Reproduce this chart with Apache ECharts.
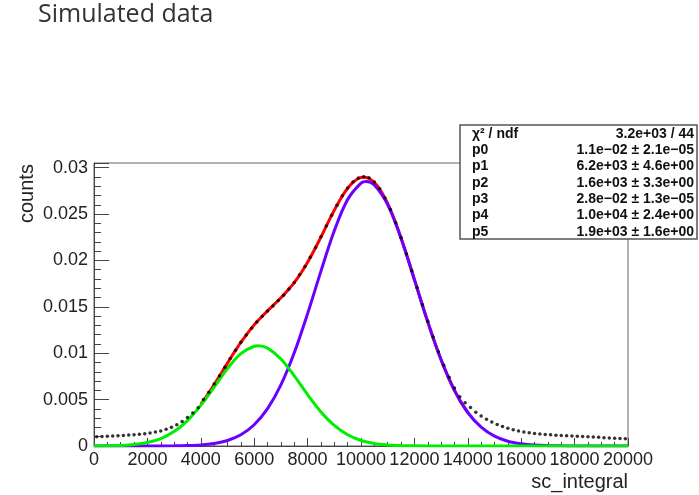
<!DOCTYPE html>
<html>
<head>
<meta charset="utf-8">
<script src="https://cdn.jsdelivr.net/npm/echarts@6/dist/echarts.min.js"></script>
<style>
html,body{margin:0;padding:0;background:#fff;}
#chart{width:699px;height:495px;}
</style>
</head>
<body>
<div id="chart"></div>
<script>
// ---- data ----
const binFirstCenter = 100, binWidth = 200;
const dataCounts = [
  0.00100,0.00103,0.00106,0.00109,0.00111,0.00114,0.00118,0.00122,0.00127,0.00133,
  0.00140,0.00150,0.00163,0.00180,0.00202,0.00230,0.00265,0.00307,0.00355,0.00412,
  0.00500,0.00580,0.00668,0.00757,0.00850,0.00942,0.01033,0.01117,0.01197,0.01268,
  0.01336,0.01398,0.01455,0.01510,0.01567,0.01626,0.01692,0.01763,0.01845,0.01935,
  0.02034,0.02140,0.02254,0.02372,0.02487,0.02596,0.02697,0.02781,0.02846,0.02888,
  0.02903,0.02890,0.02846,0.02773,0.02673,0.02550,0.02405,0.02245,0.02070,0.01890,
  0.01706,0.01523,0.01345,0.01175,0.01016,0.00870,0.00740,0.00625,0.00530,0.00465,
  0.00415,0.00365,0.00323,0.00288,0.00258,0.00232,0.00210,0.00191,0.00175,0.00162,
  0.00151,0.00143,0.00136,0.00130,0.00125,0.00121,0.00117,0.00114,0.00111,0.00108,
  0.00105,0.00102,0.00099,0.00096,0.00093,0.00090,0.00087,0.00084,0.00081,0.00078
];
const redX = [4000,4100,4300,4500,4700,4900,5100,5300,5500,5700,5900,6100,6300,6500,6700,6900,7100,7300,7500,7700,7900,
  8100,8300,8500,8700,8900,9100,9300,9500,9700,9900,10100,10300,10500,10700,10900,11100,11300,11500,11700,11900,
  12100,12300,12500,12700,12900,13100,13300,13500,13700,13900,14000];
const redY = [0.0045,0.00489,0.00573,0.00662,0.00754,0.00847,0.0094,0.0103,0.01116,0.01196,0.0127,
  0.01338,0.01399,0.01457,0.01512,0.01568,0.01627,0.01691,0.01761,0.01842,0.01932,
  0.02031,0.02139,0.02252,0.0237,0.02485,0.02594,0.02694,0.02778,0.02842,0.02883,
  0.02897,0.02883,0.0284,0.02769,0.0267,0.02547,0.02403,0.02242,0.02068,0.01886,
  0.01701,0.01517,0.01338,0.01166,0.01005,0.008565,0.007213,0.006002,0.004942,0.004022,0.00361];
const greenX = [0,500,1000,1500,2000,2500,3000,3500,4000,4500,5000,5500,6000,6150,6500,7000,7500,8000,8500,9000,
  9500,10000,10500,11000,11500,12000,13000,14000,15000,16000,17000,18000,19000,20000];
const greenY = [0.0000067,0.0000212,0.0000608,0.000158,0.000374,0.0008,0.001555,0.00274,0.00438,0.006346,
  0.008342,0.009945,0.010752,0.0108,0.010545,0.009374,0.007565,0.005535,0.003673,0.002211,
  0.001206,0.000597,0.000268,0.000109,0.00004,0.0000135,0,0,0,0,0,0,0,0];
const purpleX = [0,1000,2000,3000,3500,4000,4500,5000,5500,6000,6500,7000,7500,8000,8500,9000,9500,10000,10200,10500,
  11000,11500,12000,12500,13000,13500,14000,14500,15000,15500,16000,16500,17000,17500,18000,19000,20000];
const purpleY = [0,0.0000002,0.0000019,0.0000172,0.0000465,0.000117,0.000274,0.000596,0.001211,0.002288,
  0.004022,0.00659,0.01005,0.01427,0.01885,0.0232,0.02657,0.02834,0.0285,0.02813,
  0.02601,0.02238,0.01793,0.01338,0.00929,0.006002,0.00361,0.002027,0.001057,0.000513,
  0.000232,0.0000977,0.0000384,0.000014,0.000005,0,0];
const statNames = ['χ² / ndf','p0','p1','p2','p3','p4','p5'];
const statValues = ['3.2e+03 / 44','1.1e\u221202 \u00b1 2.1e\u221205','6.2e+03 \u00b1 4.6e+00','1.6e+03 \u00b1 3.3e+00',
  '2.8e\u221202 \u00b1 1.3e\u221205','1.0e+04 \u00b1 2.4e+00','1.9e+03 \u00b1 1.6e+00'];
const titleText = 'Simulated data';
const xTitle = 'sc_integral';
const yTitle = 'counts';

// ---- build ----
const pts = dataCounts.map((v,i)=>[binFirstCenter + i*binWidth, v]);
const zip = (xs,ys)=>xs.map((x,i)=>[x,ys[i]]);

const chart = echarts.init(document.getElementById('chart'), null, {renderer:'canvas'});
const lblFont = 'Liberation Sans, Arial, sans-serif';
const statFont = 'bold 14px Liberation Sans, Arial, sans-serif';

const statGraphics = [];
statNames.forEach((n,i)=>{
  const y = 9 + i*16.3;
  statGraphics.push({type:'text', x:12, y:y, style:{text:n, font:statFont, fill:'#111', textAlign:'left', textVerticalAlign:'middle'}});
  statGraphics.push({type:'text', x:234, y:y, style:{text:statValues[i], font:statFont, fill:'#111', textAlign:'right', textVerticalAlign:'middle'}});
});

chart.setOption({
  animation:false,
  backgroundColor:'#fff',
  grid:{left:94, right:71, top:163, bottom:49, show:true, borderColor:'#666', borderWidth:1, backgroundColor:'transparent'},
  xAxis:{type:'value', min:0, max:20000, interval:2000,
    axisLine:{show:true, onZero:false, lineStyle:{color:'#444', width:1}},
    axisTick:{show:true, inside:true, length:8, lineStyle:{color:'#444'}},
    minorTick:{show:true, splitNumber:4, length:4, lineStyle:{color:'#444'}},
    splitLine:{show:false},
    axisLabel:{color:'#222', fontSize:18, fontFamily:lblFont, margin:5, showMaxLabel:true, showMinLabel:true, hideOverlap:false,
      formatter:v=>String(v)}
  },
  yAxis:{type:'value', min:0, max:0.0305, interval:0.005,
    axisLine:{show:true, onZero:false, lineStyle:{color:'#444', width:1}},
    axisTick:{show:true, inside:true, length:15, lineStyle:{color:'#444'}},
    minorTick:{show:true, splitNumber:5, length:7, lineStyle:{color:'#444'}},
    splitLine:{show:false},
    axisLabel:{color:'#222', fontSize:18, fontFamily:lblFont, margin:6, showMaxLabel:false,
      formatter:v=>String(+v.toFixed(4))}
  },
  series:[
    {type:'line', data:zip(redX,redY), smooth:0.3, showSymbol:false, lineStyle:{color:'#ff0000', width:3}, z:2},
    {type:'line', data:zip(purpleX,purpleY), smooth:0.35, showSymbol:false, lineStyle:{color:'#6a00ff', width:3}, z:3},
    {type:'line', data:zip(greenX,greenY), smooth:0.35, showSymbol:false, lineStyle:{color:'#00ee00', width:3}, z:4},
    {type:'scatter', data:pts, symbol:'circle', symbolSize:3.5, itemStyle:{color:'#000'}, z:5}
  ],
  graphic:[
    {type:'text', x:38, y:15, style:{text:titleText, font:'25px Open Sans, Noto Sans, sans-serif', fill:'#333', textVerticalAlign:'middle'}},
    {type:'text', x:628, y:482, style:{text:xTitle, font:'20px Liberation Sans, Arial, sans-serif', fill:'#222', textAlign:'right', textVerticalAlign:'middle'}},
    {type:'text', x:17, y:223, rotation:Math.PI/2, style:{text:yTitle, font:'20px Liberation Sans, Arial, sans-serif', fill:'#222', textAlign:'left', textVerticalAlign:'top'}},
    {type:'group', x:460, y:125, z:100, children:[
      {type:'rect', shape:{x:0,y:0,width:237,height:114}, style:{fill:'#fff', stroke:'#555', lineWidth:1.5}},
      ...statGraphics
    ]}
  ]
});
</script>
</body>
</html>
